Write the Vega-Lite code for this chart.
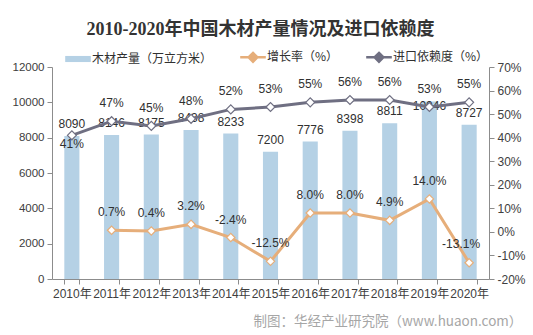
{
  "$schema": "https://vega.github.io/schema/vega-lite/v6.json",
  "width": 437,
  "height": 212,
  "autosize": {"type": "none"},
  "padding": {"left": 52, "top": 67, "right": 44, "bottom": 56},
  "background": "white",
  "config": {
    "font": "Liberation Sans, Noto Sans CJK SC",
    "view": {"stroke": null},
    "axis": {"grid": false, "domainColor": "#8c8c8c", "tickColor": "#8c8c8c", "labelColor": "#404040", "labelFontSize": 12, "tickSize": 5, "labelOverlap": false}
  },
  "title": {
    "text": "2010-2020年中国木材产量情况及进口依赖度",
    "font": "Liberation Serif, Noto Sans CJK SC",
    "fontSize": 18,
    "fontWeight": "bold",
    "color": "#333333",
    "anchor": "middle",
    "offset": 12,
    "dx": -10
  },
  "data": {
    "values": [
      {"year": "2010年", "output": 8090, "growth": null, "dep": 0.41},
      {"year": "2011年", "output": 8146, "growth": 0.007, "dep": 0.47},
      {"year": "2012年", "output": 8175, "growth": 0.004, "dep": 0.45},
      {"year": "2013年", "output": 8438, "growth": 0.032, "dep": 0.48},
      {"year": "2014年", "output": 8233, "growth": -0.024, "dep": 0.52},
      {"year": "2015年", "output": 7200, "growth": -0.125, "dep": 0.53},
      {"year": "2016年", "output": 7776, "growth": 0.080, "dep": 0.55},
      {"year": "2017年", "output": 8398, "growth": 0.080, "dep": 0.56},
      {"year": "2018年", "output": 8811, "growth": 0.049, "dep": 0.56},
      {"year": "2019年", "output": 10046, "growth": 0.140, "dep": 0.53},
      {"year": "2020年", "output": 8727, "growth": -0.131, "dep": 0.55}
    ]
  },
  "encoding": {
    "x": {
      "field": "year",
      "type": "nominal",
      "sort": null,
      "scale": {"paddingInner": 0.62, "paddingOuter": 0.31},
      "axis": {
        "labelAngle": 0,
        "labelPadding": 4,
        "tickBand": "extent",
        "title": "制图：华经产业研究院（www.huaon.com）",
        "titleFont": "Noto Sans CJK SC",
        "titleFontSize": 13.5,
        "titleFontWeight": "normal",
        "titleColor": "#a6a6a6",
        "titleAnchor": "start",
        "titleAlign": "left",
        "titleBaseline": "middle",
        "titleX": 201,
        "titleY": 42
      }
    },
    "color": {
      "scale": {
        "domain": ["木材产量（万立方米）", "增长率（%）", "进口依赖度（%）"],
        "range": ["#b5d1e5", "#e6ae7a", "#6f6f82"]
      },
      "legend": {
        "orient": "none",
        "direction": "horizontal",
        "legendX": 20,
        "legendY": -16,
        "title": null,
        "symbolSize": 256,
        "labelFont": "Noto Sans CJK SC",
        "labelFontSize": 12,
        "labelColor": "#303030",
        "labelOffset": 8,
        "columnPadding": 22,
        "symbolStrokeWidth": 2.5,
        "encode": {
          "symbols": {
            "update": {
              "shape": {"signal": "datum.value === '木材产量（万立方米）' ? 'M-1.6,-0.38H1.6V0.38H-1.6Z' : 'M-1.6,0H-0.55M0.55,0H1.6M0,-0.55L0.55,0L0,0.55L-0.55,0Z'"},
              "fill": {"signal": "datum.value === '木材产量（万立方米）' ? '#b5d1e5' : '#ffffff'"},
              "stroke": {"signal": "datum.value === '木材产量（万立方米）' ? '#b5d1e5' : datum.value === '增长率（%）' ? '#e6ae7a' : '#6f6f82'"},
              "strokeWidth": {"signal": "datum.value === '木材产量（万立方米）' ? 0 : 2.5"},
              "opacity": {"value": 1}
            }
          }
        }
      }
    }
  },
  "layer": [
    {
      "encoding": {
        "y": {
          "field": "output",
          "type": "quantitative",
          "scale": {"domain": [0, 12000], "nice": false},
          "axis": {"values": [0, 2000, 4000, 6000, 8000, 10000, 12000], "format": "d", "title": null, "labelFontSize": 11.5, "labelPadding": 3, "labelOverlap": false}
        }
      },
      "layer": [
        {
          "mark": {"type": "bar"},
          "encoding": {"color": {"datum": "木材产量（万立方米）"}}
        },
        {
          "transform": [{"filter": "datum.year != '2019年'"}],
          "mark": {"type": "text", "dy": -12, "baseline": "middle", "fontSize": 12, "color": "#303030"},
          "encoding": {"text": {"field": "output", "type": "quantitative", "format": "d"}}
        },
        {
          "transform": [{"filter": "datum.year == '2019年'"}],
          "mark": {"type": "text", "dy": 4, "baseline": "middle", "fontSize": 12, "color": "#303030"},
          "encoding": {"text": {"field": "output", "type": "quantitative", "format": "d"}}
        }
      ]
    },
    {
      "encoding": {
        "y": {
          "field": "growth",
          "type": "quantitative",
          "scale": {"domain": [-0.2, 0.7], "nice": false},
          "axis": {"orient": "right", "values": [-0.2, -0.1, 0, 0.1, 0.2, 0.3, 0.4, 0.5, 0.6, 0.7], "format": ".0%", "labelExpr": "replace(datum.label, '−', '-')", "title": null, "labelFontSize": 12, "labelPadding": 3, "labelOverlap": false}
        }
      },
      "layer": [
        {
          "transform": [{"filter": "datum.growth != null"}],
          "mark": {"type": "line", "strokeWidth": 3},
          "encoding": {"color": {"datum": "增长率（%）"}}
        },
        {
          "mark": {"type": "line", "strokeWidth": 3},
          "encoding": {
            "y": {"field": "dep", "type": "quantitative", "axis": {"orient": "right", "values": [-0.2, -0.1, 0, 0.1, 0.2, 0.3, 0.4, 0.5, 0.6, 0.7], "format": ".0%", "labelExpr": "replace(datum.label, '−', '-')", "title": null, "labelFontSize": 12, "labelPadding": 3, "labelOverlap": false}},
            "color": {"datum": "进口依赖度（%）"}
          }
        },
        {
          "transform": [{"filter": "datum.growth != null"}],
          "mark": {"type": "point", "shape": "diamond", "filled": true, "fill": "white", "stroke": "#e6ae7a", "strokeWidth": 1.2, "size": 70, "opacity": 1}
        },
        {
          "mark": {"type": "point", "shape": "diamond", "filled": true, "fill": "white", "stroke": "#6f6f82", "strokeWidth": 1.2, "size": 80, "opacity": 1},
          "encoding": {"y": {"field": "dep", "type": "quantitative", "axis": {"orient": "right", "values": [-0.2, -0.1, 0, 0.1, 0.2, 0.3, 0.4, 0.5, 0.6, 0.7], "format": ".0%", "labelExpr": "replace(datum.label, '−', '-')", "title": null, "labelFontSize": 12, "labelPadding": 3, "labelOverlap": false}}}
        },
        {
          "transform": [{"filter": "datum.growth != null && datum.year != '2020年'"}, {"calculate": "replace(format(datum.growth, '.1%'), '−', '-')", "as": "glabel"}],
          "mark": {"type": "text", "dy": -18, "baseline": "middle", "fontSize": 12, "color": "#303030"},
          "encoding": {"text": {"field": "glabel", "type": "nominal"}}
        },
        {
          "transform": [{"filter": "datum.year == '2020年'"}, {"calculate": "replace(format(datum.growth, '.1%'), '−', '-')", "as": "glabel"}],
          "mark": {"type": "text", "dy": -19, "dx": -8, "baseline": "middle", "fontSize": 12, "color": "#303030"},
          "encoding": {"text": {"field": "glabel", "type": "nominal"}}
        },
        {
          "transform": [{"filter": "datum.year != '2010年'"}],
          "mark": {"type": "text", "dy": -18, "baseline": "middle", "fontSize": 12, "color": "#303030"},
          "encoding": {
            "y": {"field": "dep", "type": "quantitative", "axis": {"orient": "right", "values": [-0.2, -0.1, 0, 0.1, 0.2, 0.3, 0.4, 0.5, 0.6, 0.7], "format": ".0%", "labelExpr": "replace(datum.label, '−', '-')", "title": null, "labelFontSize": 12, "labelPadding": 3, "labelOverlap": false}},
            "text": {"field": "dep", "type": "quantitative", "format": ".0%"}
          }
        },
        {
          "transform": [{"filter": "datum.year == '2010年'"}],
          "mark": {"type": "text", "dy": 9, "baseline": "middle", "fontSize": 12, "color": "#303030"},
          "encoding": {
            "y": {"field": "dep", "type": "quantitative", "axis": {"orient": "right", "values": [-0.2, -0.1, 0, 0.1, 0.2, 0.3, 0.4, 0.5, 0.6, 0.7], "format": ".0%", "labelExpr": "replace(datum.label, '−', '-')", "title": null, "labelFontSize": 12, "labelPadding": 3, "labelOverlap": false}},
            "text": {"field": "dep", "type": "quantitative", "format": ".0%"}
          }
        }
      ]
    }
  ],
  "resolve": {"scale": {"y": "independent"}}
}
